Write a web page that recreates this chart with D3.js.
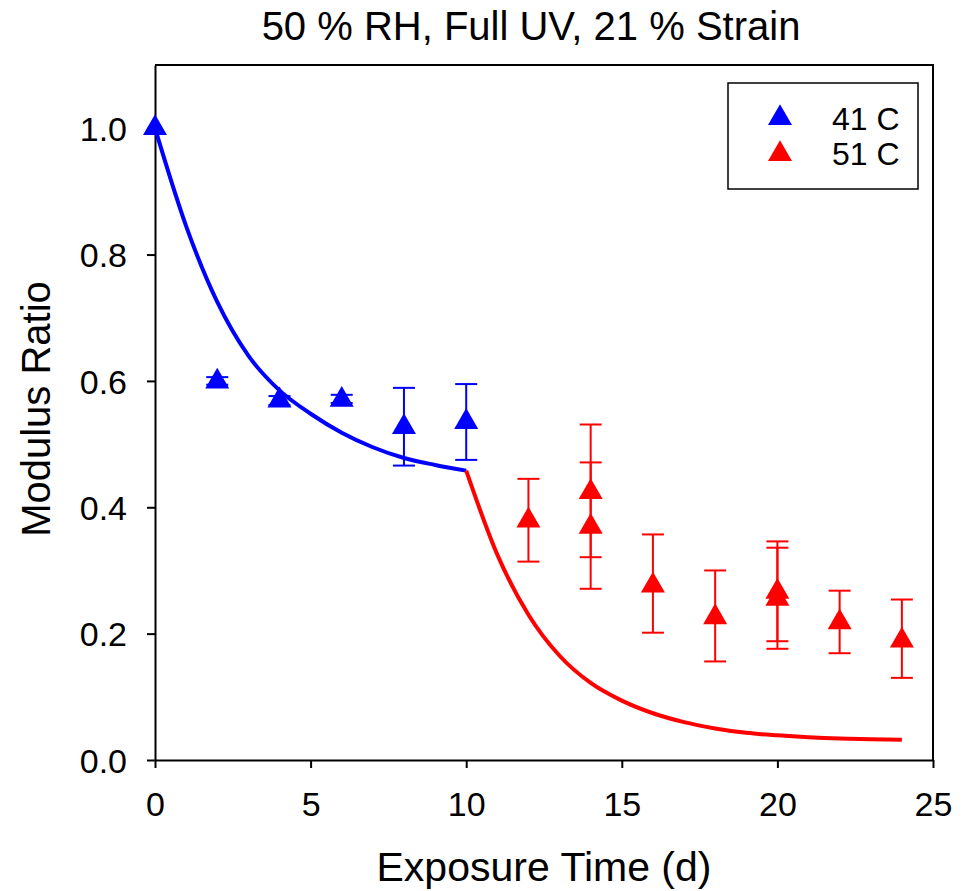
<!DOCTYPE html>
<html>
<head>
<meta charset="utf-8">
<script src="https://cdn.jsdelivr.net/npm/d3@7"></script>
<style>
  body { margin: 0; background: #fff; }
  text { font-family: "Liberation Sans", Arial, sans-serif; fill: #000; }
</style>
</head>
<body>
<script>
// measured points, 41 C
const days41 = [0, 2, 4, 6, 8, 10];
const ratio41 = [1.0, 0.599, 0.569, 0.570, 0.527, 0.535];
const low41 = [1.0, 0.594, 0.562, 0.565, 0.466, 0.475];
const high41 = [1.0, 0.606, 0.576, 0.578, 0.589, 0.595];

// measured points, 51 C
const days51 = [12, 14, 14, 16, 18, 20, 20, 22, 24];
const ratio51 = [0.379, 0.424, 0.369, 0.276, 0.226, 0.266, 0.255, 0.218, 0.189];
const low51 = [0.314, 0.321, 0.271, 0.2015, 0.156, 0.188, 0.176, 0.169, 0.130];
const high51 = [0.445, 0.531, 0.471, 0.357, 0.300, 0.346, 0.336, 0.268, 0.254];

// fitted curves
const fitDays41 = [0, 1, 2, 3, 4, 5, 6, 7, 8, 9, 10];
const fitRatio41 = [1.0, 0.845, 0.725, 0.64, 0.585, 0.548, 0.518, 0.495, 0.478, 0.467, 0.458];
const fitDays51 = [10, 11, 12, 13, 14, 15, 16, 17, 18, 19, 20, 21, 22, 23, 24];
const fitRatio51 = [0.458, 0.325, 0.23, 0.165, 0.122, 0.094, 0.074, 0.06, 0.05, 0.043, 0.039, 0.036, 0.034, 0.033, 0.032];

const xTicks = [0, 5, 10, 15, 20, 25];
const yTicks = [0, 0.2, 0.4, 0.6, 0.8, 1.0];
const legendLabels = ["41 C", "51 C"];
const colors = ["#0000ff", "#ff0000"];

const W = 962, H = 891;
const margin = { top: 65, right: 29, bottom: 131, left: 155 };
const width = W - margin.left - margin.right,
    height = H - margin.top - margin.bottom;

const svg = d3.select("body").append("svg")
    .attr("width", W)
    .attr("height", H);

const g = svg.append("g")
    .attr("transform", `translate(${margin.left},${margin.top})`);

const x = d3.scaleLinear().domain([0, 25]).range([0, width]);
const y = d3.scaleLinear().domain([0, 1.1]).range([height, 0]);

// frame (top + right)
g.append("path")
    .attr("d", `M0,0H${width}V${height}`)
    .attr("fill", "none")
    .attr("stroke", "#000")
    .attr("stroke-width", 2);

// axes
const xAxis = g.append("g")
    .attr("transform", `translate(0,${height})`)
    .call(d3.axisBottom(x).tickValues(xTicks).tickSize(8).tickSizeOuter(0).tickPadding(24));
const yAxis = g.append("g")
    .call(d3.axisLeft(y).tickValues(yTicks).tickFormat(d3.format(".1f")).tickSize(8).tickSizeOuter(0).tickPadding(20));

[xAxis, yAxis].forEach(a => {
    a.select(".domain").attr("stroke-width", 2);
    a.selectAll(".tick line").attr("stroke-width", 2);
    a.selectAll("text")
        .style("font-family", '"Liberation Sans", Arial, sans-serif')
        .style("font-size", "34px")
        .attr("fill", "#000");
});
yAxis.selectAll("text").attr("dy", "0.36em");

// curves
const line = d3.line()
    .x(d => x(d[0]))
    .y(d => y(d[1]))
    .curve(d3.curveMonotoneX);

g.append("path")
    .datum(fitDays41.map((d, i) => [d, fitRatio41[i]]))
    .attr("d", line)
    .attr("fill", "none")
    .attr("stroke", colors[0])
    .attr("stroke-width", 4);

g.append("path")
    .datum(fitDays51.map((d, i) => [d, fitRatio51[i]]))
    .attr("d", line)
    .attr("fill", "none")
    .attr("stroke", colors[1])
    .attr("stroke-width", 4);

// error bars + points
const series = [
    { days: days41, ratio: ratio41, low: low41, high: high41, color: colors[0] },
    { days: days51, ratio: ratio51, low: low51, high: high51, color: colors[1] }
];
const tri = d3.symbol().type(d3.symbolTriangle).size(250);
const capW = 11;

series.forEach(s => {
    const pts = s.days.map((d, i) => ({ d: d, v: s.ratio[i], lo: s.low[i], hi: s.high[i] }));
    const eb = g.append("g")
        .attr("stroke", s.color)
        .attr("stroke-width", 2)
        .attr("fill", "none");
    const bars = eb.selectAll("g")
        .data(pts.filter(p => p.hi > p.lo))
        .join("g");
    bars.append("line")
        .attr("x1", p => x(p.d)).attr("x2", p => x(p.d))
        .attr("y1", p => y(p.lo)).attr("y2", p => y(p.hi));
    bars.append("line")
        .attr("x1", p => x(p.d) - capW).attr("x2", p => x(p.d) + capW)
        .attr("y1", p => y(p.lo)).attr("y2", p => y(p.lo));
    bars.append("line")
        .attr("x1", p => x(p.d) - capW).attr("x2", p => x(p.d) + capW)
        .attr("y1", p => y(p.hi)).attr("y2", p => y(p.hi));

    g.append("g").selectAll("path")
        .data(pts)
        .join("path")
        .attr("d", tri)
        .attr("transform", p => `translate(${x(p.d)},${y(p.v)})`)
        .attr("fill", s.color);
});

// legend
const lg = svg.append("g");
lg.append("rect")
    .attr("x", 728).attr("y", 83)
    .attr("width", 190).attr("height", 106)
    .attr("fill", "#fff")
    .attr("stroke", "#000")
    .attr("stroke-width", 1.5);
legendLabels.forEach((t, i) => {
    lg.append("path")
        .attr("d", tri)
        .attr("transform", `translate(780,${118 + i * 36})`)
        .attr("fill", colors[i]);
    lg.append("text")
        .attr("x", 832)
        .attr("y", 130 + i * 35)
        .style("font-size", "32px")
        .text(t);
});

// title and axis labels
svg.append("text")
    .attr("x", 531)
    .attr("y", 40)
    .attr("text-anchor", "middle")
    .style("font-size", "40px")
    .text("50 % RH, Full UV, 21 % Strain");

svg.append("text")
    .attr("x", margin.left + width / 2)
    .attr("y", 881)
    .attr("text-anchor", "middle")
    .style("font-size", "41px")
    .text("Exposure Time (d)");

svg.append("text")
    .attr("transform", `translate(50,${409}) rotate(-90)`)
    .attr("text-anchor", "middle")
    .style("font-size", "40px")
    .text("Modulus Ratio");
</script>
</body>
</html>
